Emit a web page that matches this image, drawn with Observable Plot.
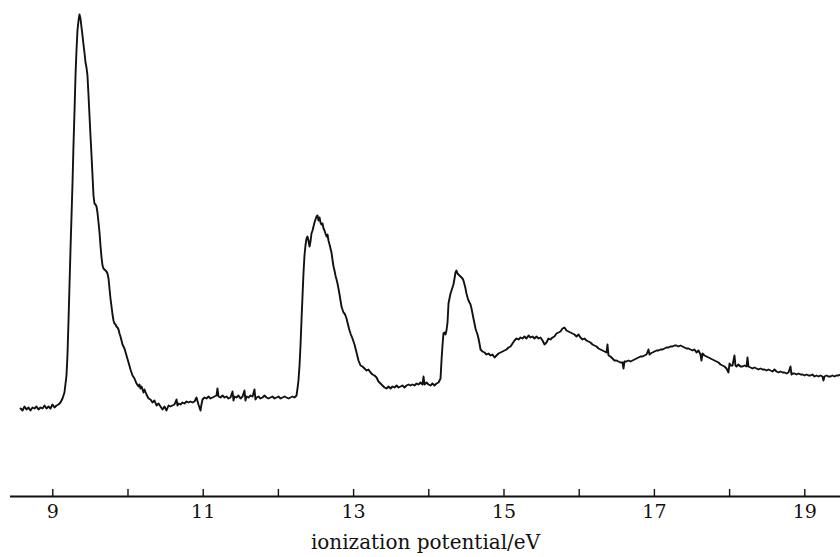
<!DOCTYPE html>
<html>
<head>
<meta charset="utf-8">
<script src="https://cdn.jsdelivr.net/npm/d3@7"></script>
<script src="https://cdn.jsdelivr.net/npm/@observablehq/plot@0.6"></script>
<style>
  html, body { margin: 0; padding: 0; background: #fff; }
  #chart svg { display: block; }
</style>
</head>
<body>
<div id="chart"></div>
<script>
// Ionization potential (eV)
const energy = [
  8.571,8.597,8.624,8.650,8.677,8.703,8.730,8.757,8.783,8.810,8.836,8.863,8.890,8.916,8.943,8.969,8.996,9.023,9.049,9.076,
  9.102,9.129,9.155,9.182,9.195,9.209,9.222,9.235,9.249,9.262,9.275,9.289,9.302,9.315,9.328,9.342,9.355,9.368,9.382,9.395,
  9.408,9.421,9.435,9.448,9.461,9.475,9.488,9.501,9.515,9.528,9.541,9.554,9.568,9.581,9.594,9.608,9.621,9.634,9.648,9.661,
  9.674,9.687,9.701,9.714,9.727,9.741,9.754,9.767,9.781,9.794,9.807,9.820,9.834,9.847,9.860,9.874,9.887,9.900,9.927,9.953,
  9.980,10.007,10.033,10.060,10.086,10.113,10.140,10.153,10.166,10.180,10.193,10.206,10.219,10.246,10.273,10.299,10.326,10.352,10.379,10.406,
  10.432,10.459,10.485,10.512,10.539,10.565,10.592,10.618,10.645,10.658,10.671,10.698,10.725,10.751,10.778,10.804,10.831,10.858,10.884,10.911,
  10.937,10.964,10.977,10.991,11.017,11.044,11.071,11.097,11.124,11.150,11.177,11.190,11.204,11.230,11.257,11.283,11.310,11.337,11.363,11.390,
  11.403,11.416,11.443,11.469,11.496,11.523,11.549,11.562,11.576,11.602,11.629,11.656,11.682,11.695,11.709,11.735,11.762,11.789,11.815,11.842,
  11.868,11.895,11.922,11.948,11.975,12.001,12.028,12.055,12.081,12.108,12.134,12.161,12.188,12.214,12.241,12.254,12.267,12.281,12.294,12.307,
  12.321,12.334,12.347,12.360,12.374,12.387,12.400,12.414,12.427,12.440,12.454,12.467,12.480,12.493,12.507,12.520,12.533,12.547,12.560,12.573,
  12.587,12.600,12.613,12.626,12.640,12.653,12.666,12.680,12.693,12.706,12.719,12.733,12.746,12.759,12.773,12.786,12.799,12.813,12.826,12.839,
  12.852,12.866,12.879,12.892,12.906,12.919,12.932,12.946,12.959,12.985,13.012,13.039,13.065,13.092,13.118,13.145,13.172,13.198,13.225,13.251,
  13.278,13.305,13.331,13.358,13.384,13.411,13.438,13.464,13.491,13.517,13.544,13.571,13.597,13.624,13.650,13.677,13.704,13.730,13.757,13.783,
  13.810,13.837,13.863,13.890,13.916,13.930,13.943,13.970,13.996,14.023,14.049,14.076,14.103,14.129,14.156,14.169,14.182,14.195,14.209,14.222,
  14.235,14.249,14.262,14.275,14.289,14.302,14.315,14.328,14.342,14.355,14.368,14.382,14.395,14.408,14.422,14.435,14.448,14.461,14.475,14.488,
  14.501,14.515,14.528,14.541,14.555,14.568,14.581,14.594,14.608,14.621,14.634,14.648,14.661,14.674,14.688,14.701,14.714,14.741,14.767,14.794,
  14.821,14.847,14.874,14.900,14.927,14.954,14.980,15.007,15.033,15.060,15.087,15.113,15.140,15.166,15.193,15.220,15.246,15.273,15.299,15.326,
  15.352,15.379,15.406,15.432,15.459,15.485,15.512,15.539,15.565,15.592,15.618,15.645,15.671,15.698,15.725,15.751,15.778,15.804,15.831,15.858,
  15.884,15.911,15.937,15.964,15.991,16.017,16.044,16.070,16.097,16.124,16.150,16.177,16.203,16.230,16.257,16.283,16.310,16.336,16.363,16.376,
  16.390,16.416,16.443,16.469,16.496,16.522,16.549,16.576,16.589,16.602,16.629,16.655,16.682,16.709,16.735,16.762,16.788,16.815,16.842,16.868,
  16.895,16.921,16.935,16.948,16.975,17.001,17.028,17.054,17.081,17.108,17.134,17.161,17.187,17.214,17.241,17.267,17.294,17.320,17.347,17.374,
  17.400,17.427,17.453,17.480,17.507,17.533,17.560,17.586,17.613,17.626,17.640,17.666,17.693,17.719,17.746,17.773,17.799,17.826,17.852,17.879,
  17.906,17.932,17.959,17.985,17.999,18.012,18.039,18.065,18.078,18.092,18.118,18.145,18.172,18.198,18.225,18.238,18.251,18.278,18.305,18.331,
  18.358,18.384,18.411,18.438,18.464,18.491,18.517,18.544,18.571,18.597,18.624,18.650,18.677,18.704,18.730,18.757,18.783,18.810,18.823,18.837,
  18.863,18.890,18.916,18.943,18.970,18.996,19.023,19.049,19.076,19.102,19.129,19.156,19.182,19.209,19.235,19.248,19.262,19.288,19.315,19.342,
  19.368,19.395,19.421,19.448,19.475
];

// Photoelectron signal (arbitrary units)
const intensity = [
  17.6,17.2,18.0,17.4,17.8,17.2,17.8,17.6,18.0,17.4,17.8,17.6,18.2,17.6,18.0,17.6,18.4,17.8,18.2,18.4,
  18.8,19.6,20.8,24.2,28.2,35.2,42.2,49.2,56.2,62.6,70.2,77.2,84.2,89.2,93.2,95.2,96.4,95.6,93.8,92.2,
  90.4,88.8,86.8,85.8,84.2,80.2,76.2,72.2,68.2,64.2,60.2,58.6,58.4,58.0,56.8,54.8,52.8,50.2,47.8,46.2,
  45.6,45.4,45.2,45.0,44.6,43.6,41.6,39.6,38.0,36.4,35.2,34.6,34.4,34.0,33.8,33.4,32.6,32.0,30.4,29.6,
  28.2,26.8,25.4,24.2,23.6,22.6,22.0,22.4,21.6,22.0,21.4,20.8,21.4,20.4,19.6,19.4,18.8,19.2,18.2,18.6,
  18.0,17.4,18.0,17.2,18.2,18.0,18.2,18.4,19.4,18.2,18.6,18.4,18.8,18.6,19.0,18.8,19.0,18.8,19.0,19.8,
  18.4,17.2,18.4,19.4,19.8,19.6,20.0,19.6,19.8,20.0,20.2,21.6,20.0,19.8,20.2,19.8,20.0,19.6,19.8,21.0,
  19.2,20.0,19.8,20.2,19.6,20.0,21.2,19.2,20.0,19.8,20.2,20.0,21.4,19.4,19.8,20.0,19.6,19.8,20.2,19.8,
  19.6,19.8,20.0,19.6,19.8,20.0,19.6,19.8,20.0,19.8,19.6,19.8,20.0,19.8,20.2,21.6,23.2,26.2,30.2,35.2,
  40.2,44.8,48.2,50.2,51.6,52.0,51.2,50.0,51.0,52.6,53.2,54.0,54.8,55.4,56.0,56.2,55.2,55.8,54.8,54.4,
  54.6,53.6,53.2,52.6,52.0,52.4,51.2,50.4,49.6,48.8,47.4,46.0,45.2,44.2,43.4,42.6,41.6,40.4,39.2,38.0,
  37.4,36.8,36.6,36.2,35.6,34.8,34.0,33.2,32.6,31.6,30.4,28.8,27.2,26.2,26.0,25.6,25.2,25.4,24.8,24.4,
  24.2,23.8,23.0,22.6,22.2,21.8,21.6,22.0,21.6,22.0,21.8,22.2,21.8,22.0,22.2,21.8,22.2,22.4,22.2,22.4,
  22.2,22.6,22.4,22.8,22.4,24.0,22.4,22.8,22.4,22.2,22.6,22.2,22.6,22.8,23.6,27.2,30.2,32.6,32.8,32.4,
  33.2,34.8,38.6,39.6,40.6,41.2,41.8,42.4,43.6,44.8,45.2,44.6,44.4,44.2,44.0,43.8,43.6,43.2,42.4,41.6,
  40.6,39.8,39.2,38.8,38.4,37.6,36.6,35.6,34.6,33.6,33.0,32.4,31.6,30.6,29.4,29.2,29.0,28.8,28.4,28.6,
  28.2,28.4,27.8,28.2,28.6,28.8,29.0,29.2,29.4,29.8,30.0,30.6,31.2,31.6,31.4,31.8,31.6,32.0,31.6,32.2,
  31.8,32.0,31.6,32.0,31.6,31.8,31.2,30.4,30.8,31.6,31.4,31.8,32.0,32.6,32.8,33.0,33.6,33.8,33.2,33.0,
  32.8,32.6,32.4,32.0,32.4,31.8,31.4,31.6,31.2,31.0,30.8,30.4,30.2,30.0,29.6,29.4,29.2,29.0,28.8,30.4,
  28.2,28.0,27.6,27.2,27.2,27.0,26.8,26.8,25.6,27.0,27.0,27.2,27.0,27.2,27.4,27.6,27.8,28.0,28.0,28.2,
  28.4,29.4,28.4,28.6,28.8,29.0,29.2,29.2,29.4,29.4,29.6,29.8,29.8,30.0,30.0,30.2,30.2,30.0,30.2,30.0,
  29.8,29.6,29.6,29.4,29.2,29.4,28.8,29.2,28.4,27.2,28.6,28.2,28.0,27.8,27.6,27.4,27.2,27.0,26.8,26.4,
  26.2,26.0,25.6,24.8,26.6,26.2,26.2,28.2,26.2,26.0,26.4,26.0,26.0,26.2,26.0,27.8,26.0,25.8,25.6,25.8,
  25.6,25.4,25.6,25.4,25.4,25.2,25.4,25.2,25.0,25.4,25.0,24.8,25.0,24.8,24.8,24.6,24.8,26.0,24.4,24.6,
  24.6,24.4,24.6,24.4,24.4,24.2,24.4,24.2,24.2,24.4,24.0,24.2,24.0,24.2,24.0,23.2,24.0,24.2,24.0,24.0,
  24.2,24.0,24.2,24.2,24.4
];

const tickValues = [9, 10, 11, 12, 13, 14, 15, 16, 17, 18, 19];
const labelValues = [9, 11, 13, 15, 17, 19];
const xTitle = "ionization potential/eV";

const spectrum = energy.map((e, i) => ({energy: e, intensity: intensity[i]}));

const W = 840, H = 557, mB = 61;

const chart = Plot.plot({
  width: W,
  height: H,
  marginLeft: 10,
  marginRight: 0,
  marginTop: 0,
  marginBottom: mB,
  style: {background: "#fff", fontFamily: "'DejaVu Serif', serif", color: "#111"},
  x: {domain: [8.4375, 19.4748], axis: null},
  y: {domain: [0, 99.2], axis: null},
  marks: [
    Plot.ruleY([0], {stroke: "#111", strokeWidth: 2}),
    Plot.ruleX(tickValues, {stroke: "#111", strokeWidth: 1.4, insetTop: H - mB - 7}),
    Plot.axisX(labelValues, {
      anchor: "bottom", tickSize: 0, tickPadding: 8, fontSize: 19,
      label: null, tickFormat: d => String(d), fill: "#111"
    }),
    Plot.text([xTitle], {
      frameAnchor: "bottom", dy: 52, lineAnchor: "bottom",
      fontSize: 20, fill: "#111", fontFamily: "'DejaVu Serif', serif"
    }),
    Plot.line(spectrum, {
      x: "energy", y: "intensity",
      stroke: "#111", strokeWidth: 1.9, strokeLinejoin: "round"
    })
  ]
});

document.getElementById("chart").appendChild(chart);
</script>
</body>
</html>
